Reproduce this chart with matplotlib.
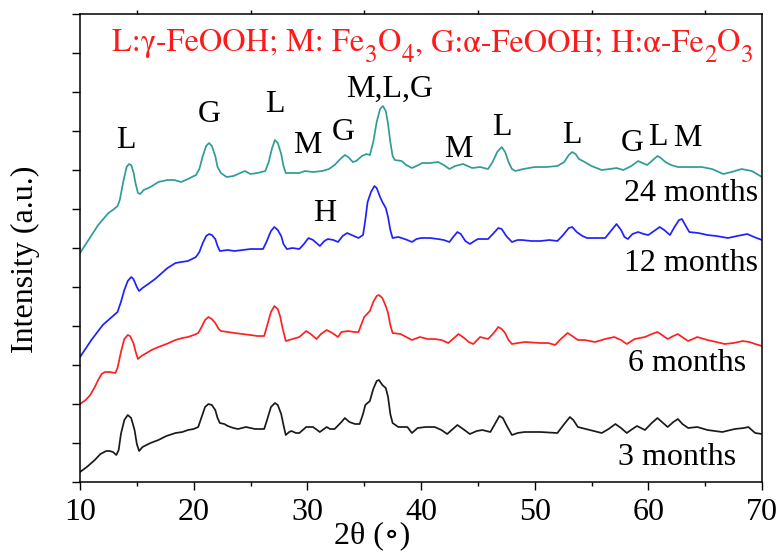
import numpy as np
import matplotlib.pyplot as plt

plt.rcParams['font.family'] = ['Liberation Serif', 'DejaVu Serif']

# XRD patterns: pairs of (2theta in degrees, intensity in a.u.)
xrd_24 = np.array([
    10.0, 229, 10.8, 243, 11.6, 257, 12.5, 269, 13.0, 273, 13.3, 276, 13.5, 282, 13.8, 300,
    14.1, 315, 14.3, 318, 14.5, 317, 14.7, 310, 14.9, 298, 15.1, 289, 15.3, 288, 15.6, 292,
    16.2, 295, 16.9, 300, 17.7, 302, 18.3, 302, 18.9, 300, 19.5, 303, 20.2, 307, 20.5, 313,
    20.8, 326, 21.1, 336, 21.35, 339, 21.6, 336, 21.9, 326, 22.1, 315, 22.4, 309, 22.9, 305,
    23.5, 306, 24.1, 309, 24.5, 311, 25.0, 308, 25.6, 309, 26.3, 311, 26.6, 320, 26.9, 334,
    27.15, 342, 27.4, 339, 27.7, 328, 27.9, 316, 28.1, 309, 28.7, 309, 29.3, 309, 29.8, 311,
    30.5, 310, 31.3, 311, 31.9, 313, 32.4, 317, 32.9, 323, 33.3, 327, 33.6, 325, 34.0, 320,
    34.3, 321, 34.8, 326, 35.2, 328, 35.5, 327, 35.8, 340, 36.1, 360, 36.4, 373, 36.65, 376,
    36.9, 371, 37.1, 358, 37.3, 340, 37.5, 326, 37.7, 322, 38.3, 321, 38.7, 317, 39.2, 314,
    39.6, 316, 40.1, 319, 40.8, 319, 41.5, 320, 42.0, 317, 42.5, 313, 43.0, 316, 43.7, 318,
    44.1, 316, 44.5, 314, 45.2, 315, 45.9, 313, 46.3, 320, 46.7, 330, 47.1, 335, 47.4, 330,
    47.7, 320, 48.0, 313, 48.3, 311, 49.0, 313, 50.0, 315, 51.0, 315, 52.0, 316, 52.6, 320,
    53.0, 327, 53.3, 330, 53.6, 328, 53.9, 323, 54.4, 320, 55.0, 316, 55.9, 312, 56.6, 313,
    57.2, 314, 57.8, 312, 58.5, 316, 59.1, 321, 59.5, 319, 59.9, 317, 60.4, 322, 60.8, 326,
    61.1, 324, 61.5, 320, 62.0, 317, 62.6, 315, 63.5, 315, 64.7, 315, 65.6, 313, 66.6, 308,
    67.3, 310, 68.2, 313, 69.1, 311, 70.0, 305]).reshape(-1, 2)

xrd_12 = np.array([
    10.0, 125, 11.0, 142, 12.0, 157, 12.7, 164, 13.3, 170, 13.6, 180, 13.9, 192, 14.2, 201,
    14.5, 205, 14.7, 203, 15.0, 195, 15.2, 191, 15.5, 194, 16.0, 198, 16.6, 203, 17.1, 208,
    17.7, 214, 18.4, 219, 18.9, 220, 19.5, 221, 20.2, 225, 20.5, 230, 20.8, 239, 21.1, 246,
    21.35, 248, 21.6, 247, 21.9, 243, 22.1, 236, 22.3, 231, 23.0, 232, 23.6, 231, 24.3, 232,
    25.0, 233, 25.6, 233, 26.1, 233, 26.4, 240, 26.8, 251, 27.1, 255, 27.4, 252, 27.7, 246,
    27.9, 238, 28.2, 233, 28.7, 234, 29.3, 233, 29.7, 238, 30.1, 244, 30.5, 242, 31.1, 236,
    31.5, 241, 31.8, 243, 32.3, 242, 32.7, 240, 33.1, 246, 33.5, 249, 33.9, 247, 34.5, 244,
    34.9, 247, 35.1, 262, 35.3, 280, 35.6, 290, 35.9, 296, 36.1, 294, 36.4, 285, 36.6, 280,
    36.9, 274, 37.1, 265, 37.3, 252, 37.5, 244, 38.0, 245, 38.3, 244, 38.8, 242, 39.2, 240,
    39.6, 243, 40.0, 244, 40.8, 244, 41.5, 243, 42.0, 242, 42.5, 240, 42.9, 246, 43.2, 250,
    43.5, 248, 43.9, 241, 44.3, 238, 44.7, 241, 45.0, 243, 45.5, 243, 45.9, 243, 46.4, 249,
    46.8, 254, 47.1, 253, 47.5, 246, 48.0, 240, 48.5, 242, 48.9, 242, 49.7, 241, 50.5, 241,
    51.3, 242, 52.0, 241, 52.5, 247, 53.0, 254, 53.3, 255, 53.7, 250, 54.2, 246, 54.6, 244,
    55.4, 244, 56.2, 244, 56.7, 251, 57.2, 258, 57.6, 252, 57.9, 245, 58.2, 243, 58.6, 248,
    59.1, 250, 59.6, 248, 60.0, 247, 60.5, 251, 61.0, 255, 61.4, 252, 61.9, 247, 62.3, 255,
    62.7, 262, 62.95, 263, 63.3, 256, 63.6, 250, 64.4, 249, 65.2, 247, 66.0, 246, 67.0, 244,
    67.8, 246, 68.7, 248, 69.3, 245, 70.0, 242]).reshape(-1, 2)

xrd_6 = np.array([
    10.0, 78, 10.5, 82, 10.9, 87, 11.3, 95, 11.6, 102, 11.9, 108, 12.2, 110, 12.6, 110,
    13.1, 109, 13.3, 114, 13.6, 130, 13.9, 143, 14.2, 147, 14.4, 146, 14.7, 139, 14.9, 130,
    15.1, 123, 15.4, 126, 15.7, 128, 16.3, 132, 16.9, 135, 17.6, 138, 18.4, 142, 19.0, 144,
    19.5, 145, 20.0, 147, 20.4, 149, 20.7, 155, 21.0, 162, 21.3, 165, 21.6, 163, 21.9, 159,
    22.2, 153, 22.4, 151, 23.0, 150, 23.6, 149, 24.3, 148, 25.0, 147, 25.6, 146, 26.2, 146,
    26.5, 158, 26.8, 170, 27.1, 176, 27.4, 173, 27.6, 166, 27.8, 155, 28.1, 141, 28.4, 142,
    28.7, 143, 29.3, 145, 29.9, 151, 30.3, 148, 30.8, 143, 31.2, 148, 31.7, 152, 32.2, 149,
    32.7, 145, 33.0, 150, 33.6, 151, 34.1, 150, 34.5, 150, 35.0, 165, 35.5, 171, 35.8, 180,
    36.1, 186, 36.3, 187, 36.6, 184, 36.9, 176, 37.1, 169, 37.3, 157, 37.5, 149, 38.2, 148,
    38.7, 145, 39.2, 142, 39.9, 145, 40.6, 143, 41.2, 143, 41.8, 142, 42.4, 139, 42.9, 144,
    43.3, 148, 43.8, 144, 44.2, 140, 44.6, 138, 45.2, 145, 45.9, 143, 46.4, 149, 46.8, 155,
    47.1, 153, 47.4, 149, 47.7, 142, 48.0, 138, 49.1, 140, 50.5, 139, 51.2, 139, 51.8, 137,
    52.3, 143, 52.9, 149, 53.3, 146, 53.8, 142, 54.4, 142, 55.3, 140, 56.2, 143, 57.0, 145,
    57.6, 142, 58.1, 138, 58.8, 143, 59.7, 145, 60.3, 148, 60.8, 150, 61.2, 147, 61.7, 143,
    62.2, 146, 62.6, 148, 63.1, 144, 63.5, 141, 64.3, 145, 65.2, 142, 66.0, 140, 66.7, 138,
    67.5, 139, 68.3, 141, 68.9, 140, 69.4, 138, 70.0, 136]).reshape(-1, 2)

xrd_3 = np.array([
    10.0, 10, 10.6, 15, 11.3, 22, 11.8, 28, 12.3, 31, 12.6, 31, 12.9, 30, 13.2, 27,
    13.4, 32, 13.6, 48, 13.9, 62, 14.2, 67, 14.5, 64, 14.8, 52, 15.0, 38, 15.2, 31,
    15.5, 35, 16.2, 39, 16.9, 42, 17.6, 46, 18.4, 49, 19.0, 50, 19.5, 52, 20.0, 53,
    20.4, 55, 20.7, 65, 21.0, 75, 21.3, 78, 21.6, 77, 21.9, 72, 22.1, 64, 22.3, 59,
    22.7, 58, 23.0, 56, 23.5, 54, 23.9, 53, 24.6, 55, 25.0, 54, 25.4, 53, 26.2, 53,
    26.4, 60, 26.8, 75, 27.15, 79, 27.4, 77, 27.7, 68, 27.9, 57, 28.1, 47, 28.4, 50,
    28.6, 51, 29.0, 49, 29.3, 49, 29.9, 55, 30.5, 55, 31.1, 50, 31.7, 55, 32.0, 53,
    32.4, 53, 33.0, 60, 33.3, 64, 33.7, 60, 34.2, 58, 34.6, 58, 34.9, 68, 35.1, 77,
    35.5, 81, 35.8, 93, 36.1, 101, 36.3, 102, 36.6, 97, 36.9, 94, 37.1, 85, 37.3, 68,
    37.5, 59, 38.0, 55, 38.8, 55, 39.2, 49, 39.7, 54, 40.4, 55, 41.2, 55, 41.8, 52,
    42.3, 48, 42.8, 53, 43.2, 57, 43.7, 53, 44.3, 48, 44.9, 51, 45.4, 52, 46.1, 50,
    46.5, 58, 46.9, 66, 47.2, 64, 47.6, 55, 48.0, 47, 48.5, 49, 49.1, 50, 50.5, 50,
    52.0, 49, 52.6, 58, 53.1, 65, 53.4, 62, 53.8, 55, 54.5, 53, 55.2, 51, 55.9, 49,
    56.5, 53, 57.1, 58, 57.6, 54, 58.1, 49, 58.6, 53, 59.0, 56, 59.7, 52, 60.3, 59,
    60.8, 64, 61.2, 60, 61.7, 55, 62.2, 60, 62.6, 63, 63.0, 58, 63.5, 54, 64.3, 55,
    65.2, 52, 66.5, 50, 67.6, 53, 68.4, 54, 68.8, 55, 69.4, 49, 70.0, 48]).reshape(-1, 2)

# phase labels: text, 2theta, baseline intensity
peak_txt = ['L', 'G', 'L', 'M', 'G', 'M,L,G', 'M', 'L', 'L', 'G', 'L', 'M', 'H']
peak_x = [14.0, 21.35, 27.1, 30.0, 33.2, 37.2, 43.3, 47.1, 53.3, 58.6, 60.8, 63.4, 31.55]
peak_y = [334, 360, 370, 329, 342, 385, 325, 347, 339, 331, 337, 336, 261]

samples = ['24 months', '12 months', '6 months', '3 months']
sample_x = [69.65, 69.65, 68.6, 67.7]
sample_y = [281, 211, 111, 17]

# phase legend, split into (text, is_subscript) pieces
legend_parts = [('L:γ-FeOOH; M: Fe', False), ('3', True), ('O', False), ('4', True),
                (', G:α-FeOOH; H:α-Fe', False), ('2', True), ('O', False), ('3', True)]

fig = plt.figure(figsize=(7.79, 5.52), dpi=100)
ax = fig.add_axes([0.1027, 0.1268, 0.8755, 0.8478])

ax.plot(xrd_24[:, 0], xrd_24[:, 1], color='#2f9c95', lw=1.25)
ax.plot(xrd_12[:, 0], xrd_12[:, 1], color='#2020ff', lw=1.25)
ax.plot(xrd_6[:, 0], xrd_6[:, 1], color='#ff2020', lw=1.25)
ax.plot(xrd_3[:, 0], xrd_3[:, 1], color='#1a1a1a', lw=1.25)

fs = 23
for t, x, y in zip(peak_txt, peak_x, peak_y):
    ax.text(x, y, t, ha='center', va='baseline', fontsize=fs)
for t, x, y in zip(samples, sample_x, sample_y):
    ax.text(x, y, t, ha='right', va='baseline', fontsize=fs)

# red legend line, pieces chained one after another (STIX is a Times-like face with Greek)
red = '#ff1a1a'
leg_font = ['STIXGeneral', 'Liberation Serif', 'DejaVu Serif']
base = ax.text(12.85, 431, legend_parts[0][0], ha='left', va='baseline', fontsize=23.2,
               color=red, family=leg_font)
prev = base
for txt, sub in legend_parts[1:]:
    prev = ax.annotate(txt, xy=(1, 0), xycoords=(prev, base),
                       xytext=(0.4, -7 if sub else 0), textcoords='offset points',
                       ha='left', va='bottom', fontsize=18 if sub else 23.2,
                       color=red, family=leg_font)

ax.set_xlim(10, 70)
ax.set_ylim(0, 468)
ax.set_xticks(np.arange(10, 71, 10))
ax.set_xticks(np.arange(15, 70, 10), minor=True)
ax.set_yticks(np.arange(0, 469, 39))
ax.set_yticklabels([])
ax.tick_params(axis='x', which='major', direction='out', length=5.5, width=1, labelsize=fs, pad=6)
ax.tick_params(axis='x', which='minor', direction='out', length=3, width=1, top=True)
ax.tick_params(axis='y', which='major', direction='out', length=5.8, width=1)
for s in ax.spines.values():
    s.set_linewidth(1.1)

ax.set_xlabel('2θ (\u2218)', fontsize=fs)
ax.xaxis.set_label_coords(0.428, -0.083)
ax.set_ylabel('Intensity (a.u.)', fontsize=fs)
ax.yaxis.set_label_coords(-0.059, 0.476)

fig.savefig('out.png', dpi=100)
